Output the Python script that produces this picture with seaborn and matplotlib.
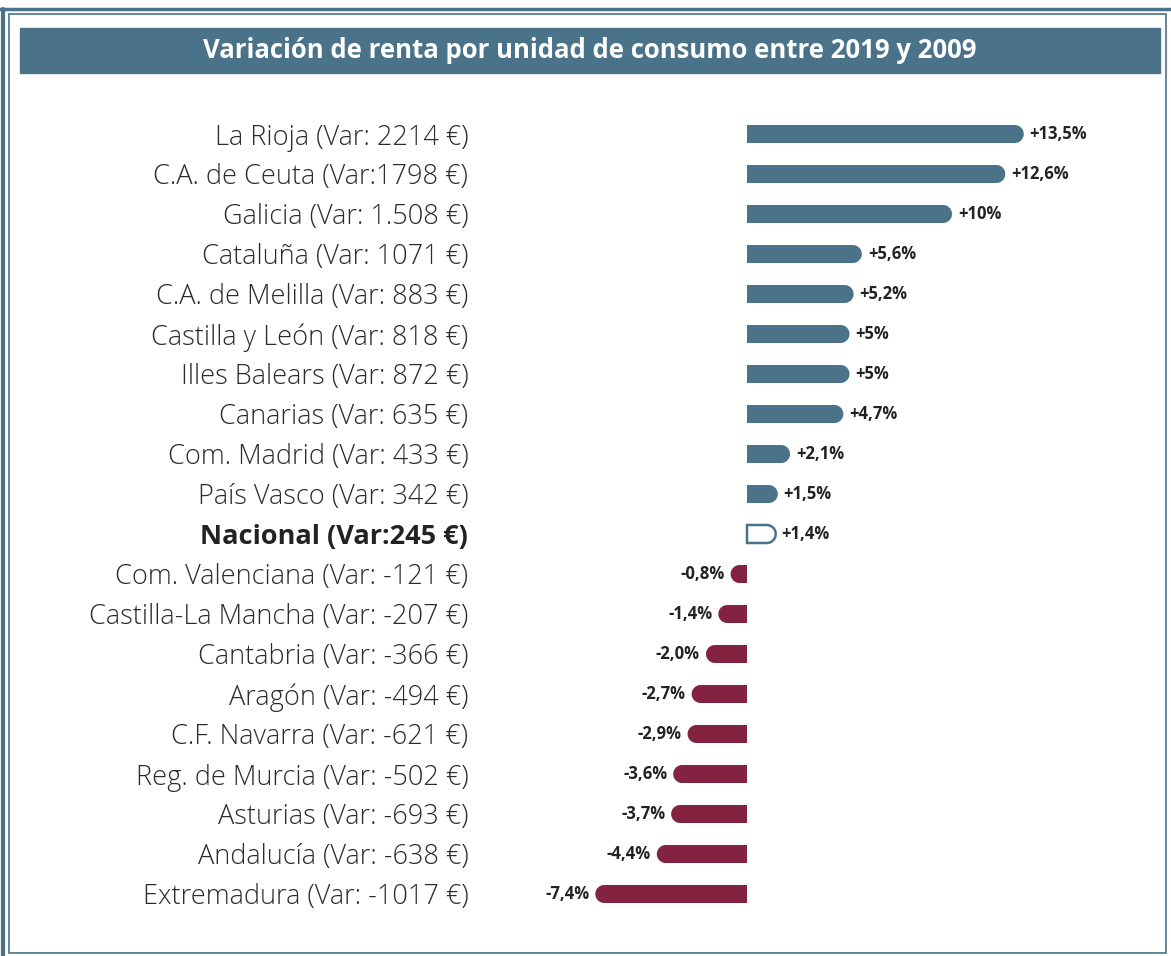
import numpy as np
import pandas as pd
import matplotlib.pyplot as plt
import seaborn as sns
from matplotlib.patches import Polygon, Rectangle
from matplotlib.lines import Line2D

etiquetas = [
    "La Rioja (Var: 2214 €)",
    "C.A. de Ceuta (Var:1798 €)",
    "Galicia (Var: 1.508 €)",
    "Cataluña (Var: 1071 €)",
    "C.A. de Melilla (Var: 883 €)",
    "Castilla y León (Var: 818 €)",
    "Illes Balears (Var: 872 €)",
    "Canarias (Var: 635 €)",
    "Com. Madrid (Var: 433 €)",
    "País Vasco (Var: 342 €)",
    "Nacional (Var:245 €)",
    "Com. Valenciana (Var: -121 €)",
    "Castilla-La Mancha (Var: -207 €)",
    "Cantabria (Var: -366 €)",
    "Aragón (Var: -494 €)",
    "C.F. Navarra (Var: -621 €)",
    "Reg. de Murcia (Var: -502 €)",
    "Asturias (Var: -693 €)",
    "Andalucía (Var: -638 €)",
    "Extremadura (Var: -1017 €)",
]
porcentajes = [13.5, 12.6, 10.0, 5.6, 5.2, 5.0, 5.0, 4.7, 2.1, 1.5, 1.4,
               -0.8, -1.4, -2.0, -2.7, -2.9, -3.6, -3.7, -4.4, -7.4]
textos_pct = ["+13,5%", "+12,6%", "+10%", "+5,6%", "+5,2%", "+5%", "+5%", "+4,7%",
              "+2,1%", "+1,5%", "+1,4%", "-0,8%", "-1,4%", "-2,0%", "-2,7%",
              "-2,9%", "-3,6%", "-3,7%", "-4,4%", "-7,4%"]
titulo = "Variación de renta por unidad de consumo entre 2019 y 2009"
fila_nacional = "Nacional (Var:245 €)"

AZUL = "#4a7289"
GRANATE = "#832341"
TEXTO = "#222222"

sns.set_style("white")
plt.rcParams['font.family'] = ['Open Sans', 'DejaVu Sans']

df = pd.DataFrame({"etiqueta": etiquetas, "pct": porcentajes})
df["grupo"] = np.where(df["pct"] > 0, "pos", "neg")
df.loc[df["etiqueta"] == fila_nacional, "grupo"] = "nac"

W, H = 1171, 956
fig = plt.figure(figsize=(W / 100, H / 100), dpi=100)

# marco
fig.add_artist(Line2D([0, 1], [1 - 9 / H, 1 - 9 / H], color=AZUL, lw=2.5))
fig.add_artist(Line2D([3 / W, 3 / W], [0, 1 - 9 / H], color=AZUL, lw=3))
fig.add_artist(Rectangle((9 / W, 3 / H), 1157 / W, 1 - 17 / H, fill=False,
                         edgecolor=AZUL, lw=1.2))

# barra de título
fig.add_artist(Rectangle((20 / W, 1 - 73 / H), 1140 / W, 45 / H, color=AZUL))
fig.text(590 / W, 1 - 51 / H, titulo, color="white", fontsize=18.5,
         fontweight="bold", ha="center", va="center")

# ejes: cero en x=747 px, 20.5 px por punto porcentual, 40 px por fila
px_x = 20.5
x0, x1 = 560, 1060
ax = fig.add_axes([x0 / W, (H - 914) / H, (x1 - x0) / W, 800 / H])
sns.barplot(data=df, x="pct", y="etiqueta", hue="grupo", dodge=False,
            palette={"pos": AZUL, "neg": GRANATE, "nac": "white"},
            saturation=1, width=0.45, legend=False, ax=ax)
ax.set_xlim((x0 - 747) / px_x, (x1 - 747) / px_x)
ax.set_ylim(len(etiquetas) - 0.5, -0.5)

rx = 9 / px_x
for p in list(ax.patches):
    val = p.get_x() + p.get_width()
    yc = p.get_y() + p.get_height() / 2
    h = p.get_height()
    idx = int(round(yc))
    color = p.get_facecolor()
    p.remove()
    s = np.sign(val)
    ry = h / 2
    xc = val - s * rx
    t = np.linspace(-np.pi / 2, np.pi / 2, 40)
    arco = np.column_stack([xc + s * rx * np.cos(t), yc + ry * np.sin(t)])
    verts = np.vstack([[0, yc - ry], arco, [0, yc + ry]])
    if etiquetas[idx] == fila_nacional:
        ax.add_patch(Polygon(verts, closed=True, facecolor="white",
                             edgecolor=AZUL, lw=1.8))
    else:
        ax.add_patch(Polygon(verts, closed=True, facecolor=color, edgecolor="none"))
    desp = 6 / px_x
    ax.text(val + s * desp, yc, textos_pct[idx], ha="left" if s > 0 else "right",
            va="center", fontsize=12, fontweight="bold", color=TEXTO)

ax.set_xlabel("")
ax.set_ylabel("")
ax.set_xticks([])
ax.tick_params(axis="y", length=0, pad=66, labelsize=19.5, labelcolor="#2b2b2b")
for lab in ax.get_yticklabels():
    lab.set_fontweight("light")
    if lab.get_text() == fila_nacional:
        lab.set_fontweight("bold")
        lab.set_color(TEXTO)
sns.despine(ax=ax, left=True, bottom=True)

fig.savefig("out.png", dpi=100)
